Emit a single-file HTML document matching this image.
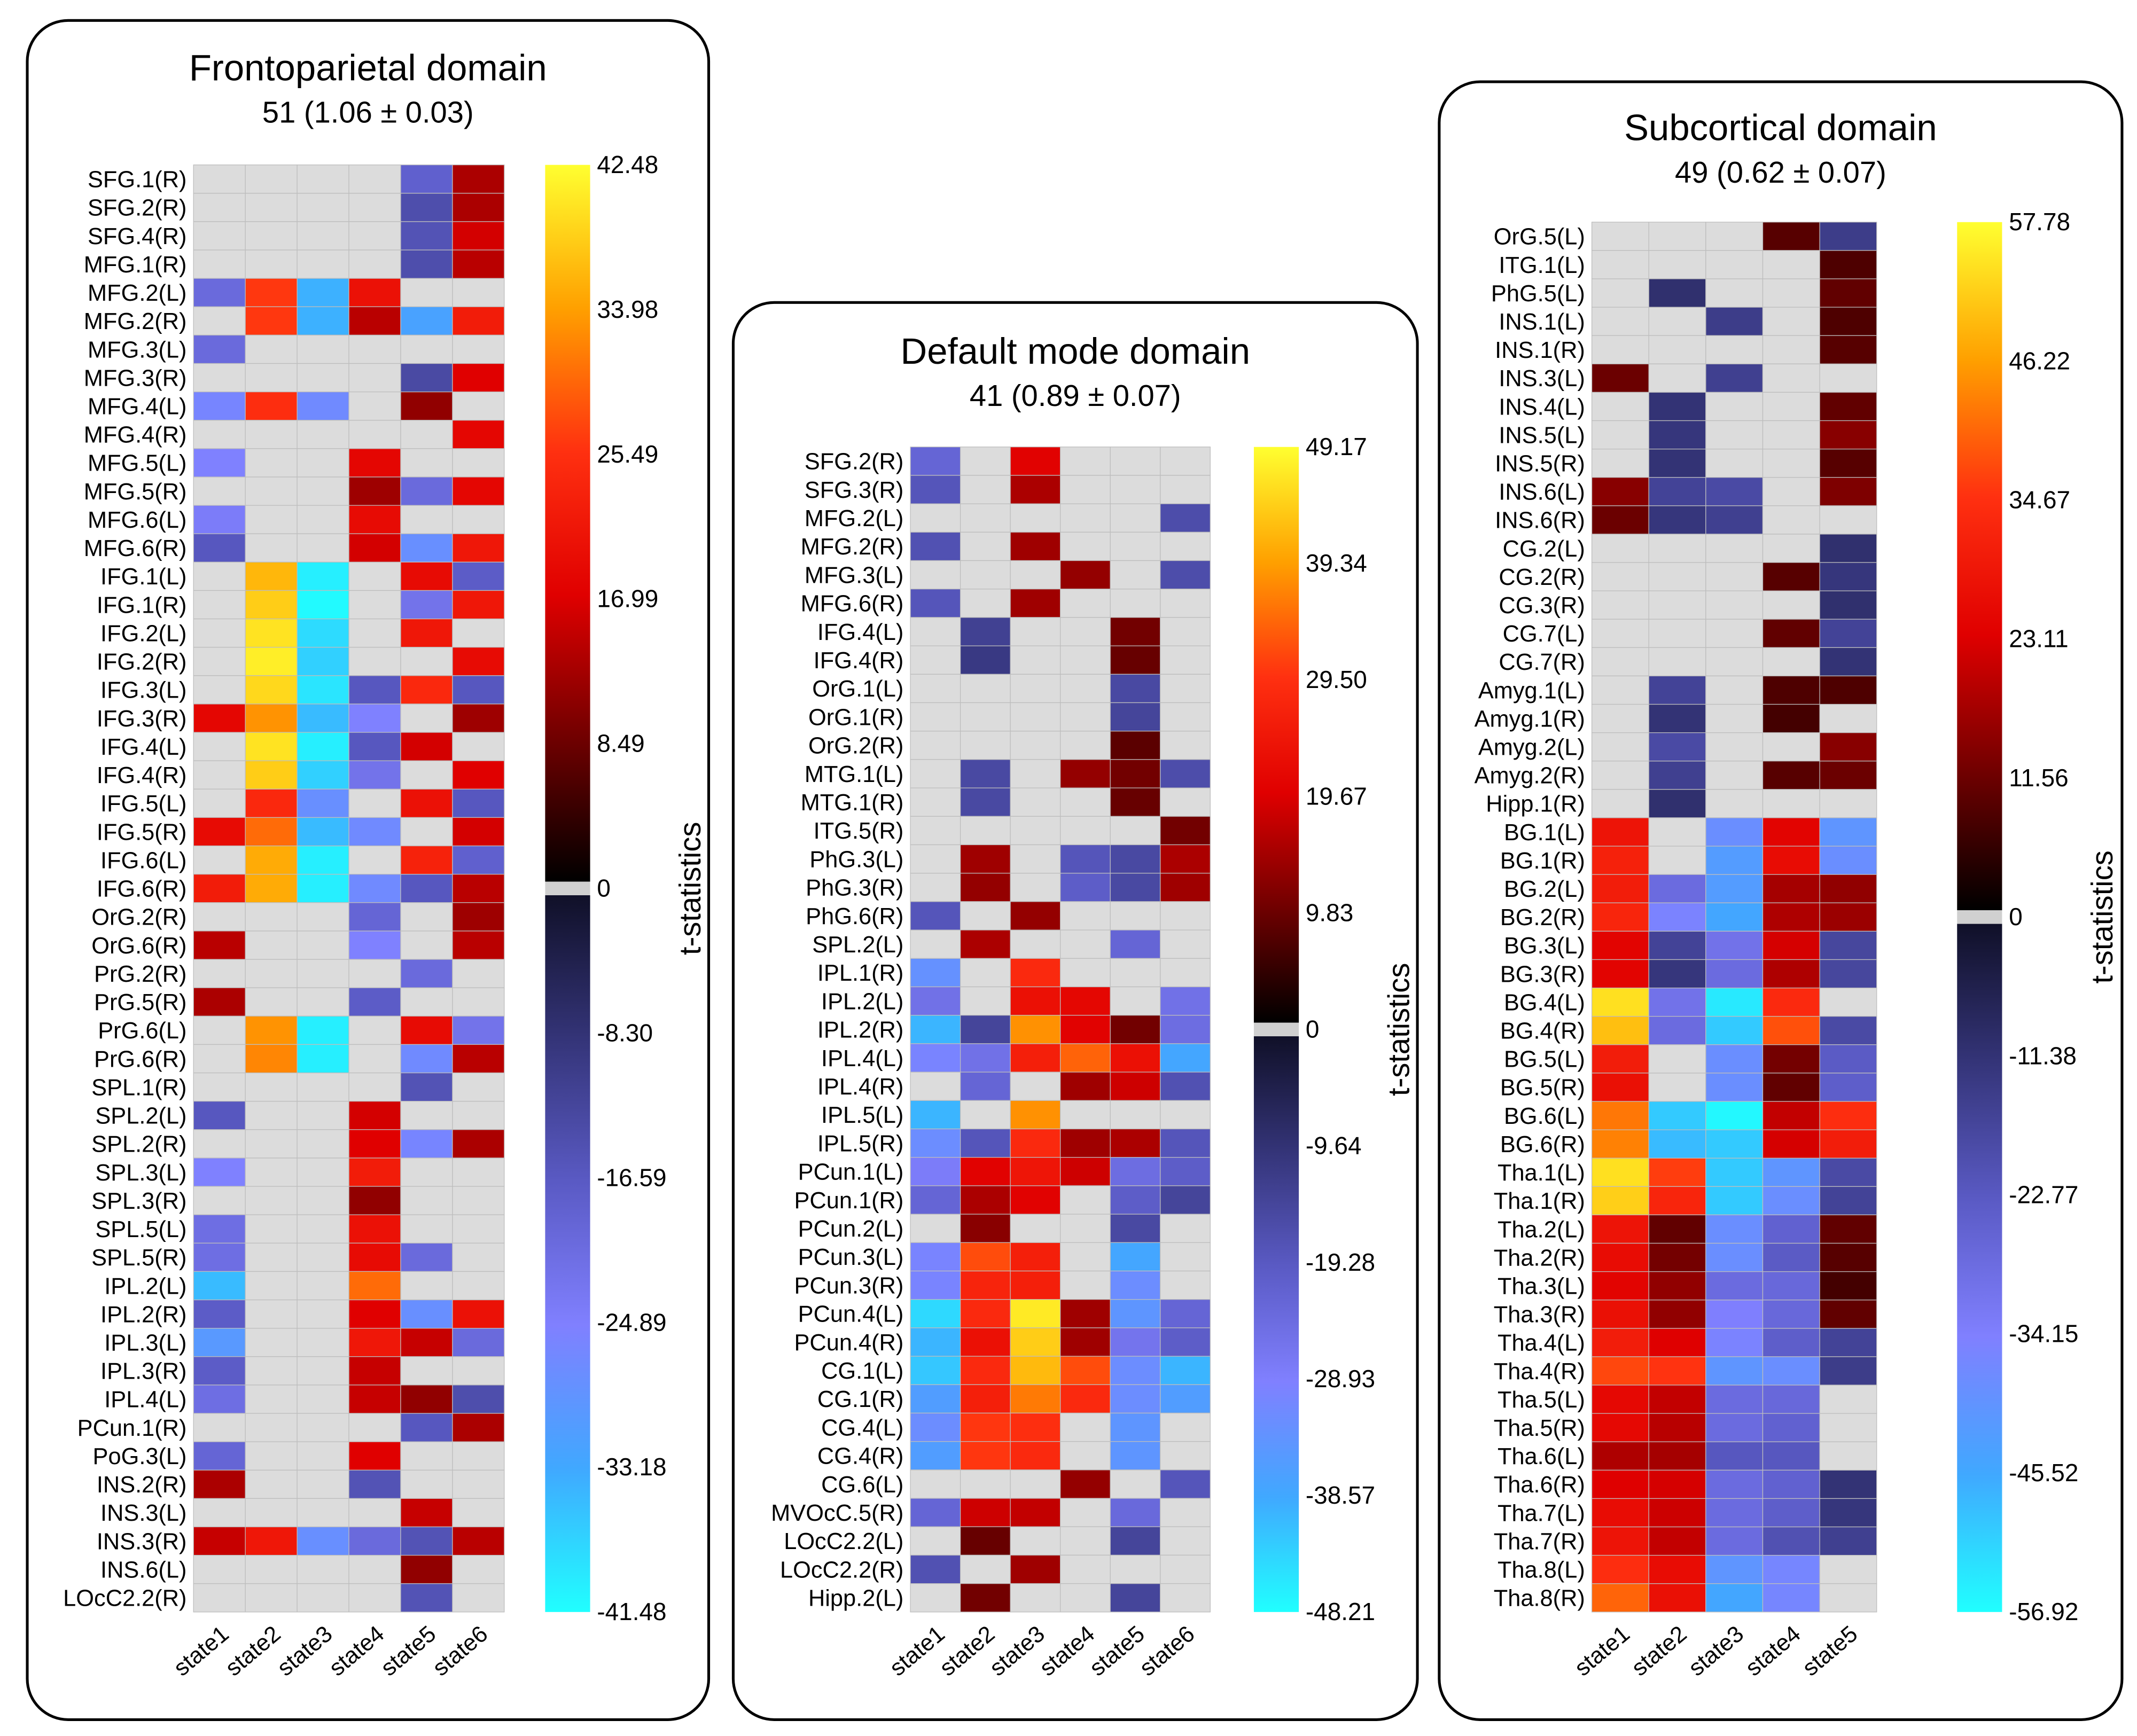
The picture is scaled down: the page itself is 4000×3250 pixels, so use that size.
<!DOCTYPE html>
<html><head><meta charset="utf-8">
<style>
html,body{margin:0;padding:0;background:#fff;}
svg{display:block;font-family:"Liberation Sans",Arial,sans-serif;}
</style></head>
<body>
<svg id="chart" xmlns="http://www.w3.org/2000/svg" width="4000" height="3250" viewBox="0 0 1568 1274" preserveAspectRatio="none">
<defs>
<linearGradient id="gpos" x1="0" y1="1" x2="0" y2="0">
<stop offset="0" stop-color="#000000"/><stop offset="0.2" stop-color="#700000"/><stop offset="0.4" stop-color="#e00000"/><stop offset="0.6" stop-color="#ff3010"/><stop offset="0.8" stop-color="#ffa000"/><stop offset="1" stop-color="#ffff30"/>
</linearGradient>
<linearGradient id="gneg" x1="0" y1="0" x2="0" y2="1">
<stop offset="0" stop-color="#101028"/><stop offset="0.2" stop-color="#343478"/><stop offset="0.4" stop-color="#5a5ac4"/><stop offset="0.6" stop-color="#8080ff"/><stop offset="0.8" stop-color="#40a8ff"/><stop offset="1" stop-color="#20ffff"/>
</linearGradient>
</defs>
</svg>
<script>
// ---------- data ----------
const fpRows=["SFG.1(R)","SFG.2(R)","SFG.4(R)","MFG.1(R)","MFG.2(L)","MFG.2(R)","MFG.3(L)","MFG.3(R)","MFG.4(L)","MFG.4(R)","MFG.5(L)","MFG.5(R)","MFG.6(L)","MFG.6(R)","IFG.1(L)","IFG.1(R)","IFG.2(L)","IFG.2(R)","IFG.3(L)","IFG.3(R)","IFG.4(L)","IFG.4(R)","IFG.5(L)","IFG.5(R)","IFG.6(L)","IFG.6(R)","OrG.2(R)","OrG.6(R)","PrG.2(R)","PrG.5(R)","PrG.6(L)","PrG.6(R)","SPL.1(R)","SPL.2(L)","SPL.2(R)","SPL.3(L)","SPL.3(R)","SPL.5(L)","SPL.5(R)","IPL.2(L)","IPL.2(R)","IPL.3(L)","IPL.3(R)","IPL.4(L)","PCun.1(R)","PoG.3(L)","INS.2(R)","INS.3(L)","INS.3(R)","INS.6(L)","LOcC2.2(R)"];
const fpVals=[
[0,0,0,0,-18,13],[0,0,0,0,-14,13],[0,0,0,0,-15,16],[0,0,0,0,-14,14],
[-20,26,-34,20,0,0],[0,26,-34,14,-32,22],[-20,0,0,0,0,0],[0,0,0,0,-13,17],
[-26,25,-27,0,11,0],[0,0,0,0,0,18],[-25,0,0,18,0,0],[0,0,0,12,-20,18],
[-24,0,0,19,0,0],[-16,0,0,16,-28,21],[0,36,-40,0,19,-17],[0,38,-41,0,-22,21],
[0,40,-38,0,21,0],[0,41,-37,0,0,19],[0,39,-39,-16,24,-16],[18,33,-35,-25,0,12],
[0,40,-40,-16,16,0],[0,38,-37,-22,0,17],[0,24,-28,0,20,-16],[19,30,-35,-27,0,16],
[0,35,-40,0,23,-18],[22,35,-40,-27,-16,14],[0,0,0,-19,0,12],[14,0,0,-25,0,14],
[0,0,0,0,-20,0],[13,0,0,-17,0,0],[0,33,-40,0,19,-22],[0,32,-40,0,-27,14],
[0,0,0,0,-15,0],[-16,0,0,16,0,0],[0,0,0,17,-26,13],[-25,0,0,22,0,0],
[0,0,0,11,0,0],[-21,0,0,20,0,0],[-21,0,0,19,-20,0],[-35,0,0,30,0,0],
[-17,0,0,17,-28,20],[-30,0,0,21,15,-20],[-17,0,0,15,0,0],[-21,0,0,15,11,-14],
[0,0,0,0,-16,13],[-19,0,0,17,0,0],[13,0,0,-15,0,0],[0,0,0,0,15,0],
[15,21,-28,-20,-15,14],[0,0,0,0,11,0],[0,0,0,0,-15,0]];
const fpTicks=["42.48","33.98","25.49","16.99","8.49","0","-8.30","-16.59","-24.89","-33.18","-41.48"];

const dmRows=["SFG.2(R)","SFG.3(R)","MFG.2(L)","MFG.2(R)","MFG.3(L)","MFG.6(R)","IFG.4(L)","IFG.4(R)","OrG.1(L)","OrG.1(R)","OrG.2(R)","MTG.1(L)","MTG.1(R)","ITG.5(R)","PhG.3(L)","PhG.3(R)","PhG.6(R)","SPL.2(L)","IPL.1(R)","IPL.2(L)","IPL.2(R)","IPL.4(L)","IPL.4(R)","IPL.5(L)","IPL.5(R)","PCun.1(L)","PCun.1(R)","PCun.2(L)","PCun.3(L)","PCun.3(R)","PCun.4(L)","PCun.4(R)","CG.1(L)","CG.1(R)","CG.4(L)","CG.4(R)","CG.6(L)","MVOcC.5(R)","LOcC2.2(L)","LOcC2.2(R)","Hipp.2(L)"];
const dmVals=[
[-22,0,20,0,0,0],[-18,0,15,0,0,0],[0,0,0,0,0,-16],[-17,0,14,0,0,0],
[0,0,0,13,0,-16],[-18,0,14,0,0,0],[0,-13,0,0,10,0],[0,-11,0,0,9,0],
[0,0,0,0,-15,0],[0,0,0,0,-14,0],[0,0,0,0,8,0],[0,-15,0,13,10,-16],
[0,-15,0,0,9,0],[0,0,0,0,0,10],[0,14,0,-18,-15,15],[0,13,0,-20,-15,14],
[-18,0,13,0,0,0],[0,15,0,0,-22,0],[-33,0,28,0,0,0],[-25,0,23,21,0,-25],
[-40,-14,38,20,10,-24],[-30,-25,26,34,23,-38],[0,-22,0,14,18,-17],[-40,0,38,0,0,0],
[-32,-18,28,14,15,-18],[-28,20,24,18,-24,-20],[-22,15,20,0,-20,-14],[0,12,0,0,-15,0],
[-30,32,26,0,-38,0],[-30,27,26,0,-32,0],[-44,28,47,14,-34,-22],[-40,23,44,14,-26,-20],
[-42,28,42,32,-32,-40],[-36,26,36,28,-32,-36],[-32,30,29,0,-34,0],[-36,30,28,0,-34,0],
[0,0,0,13,0,-18],[-22,18,17,0,-23,0],[0,9,0,0,-14,0],[-17,0,14,0,0,0],[0,10,0,0,-14,0]];
const dmTicks=["49.17","39.34","29.50","19.67","9.83","0","-9.64","-19.28","-28.93","-38.57","-48.21"];

const scRows=["OrG.5(L)","ITG.1(L)","PhG.5(L)","INS.1(L)","INS.1(R)","INS.3(L)","INS.4(L)","INS.5(L)","INS.5(R)","INS.6(L)","INS.6(R)","CG.2(L)","CG.2(R)","CG.3(R)","CG.7(L)","CG.7(R)","Amyg.1(L)","Amyg.1(R)","Amyg.2(L)","Amyg.2(R)","Hipp.1(R)","BG.1(L)","BG.1(R)","BG.2(L)","BG.2(R)","BG.3(L)","BG.3(R)","BG.4(L)","BG.4(R)","BG.5(L)","BG.5(R)","BG.6(L)","BG.6(R)","Tha.1(L)","Tha.1(R)","Tha.2(L)","Tha.2(R)","Tha.3(L)","Tha.3(R)","Tha.4(L)","Tha.4(R)","Tha.5(L)","Tha.5(R)","Tha.6(L)","Tha.6(R)","Tha.7(L)","Tha.7(R)","Tha.8(L)","Tha.8(R)"];
const scVals=[
[0,0,0,9,-14],[0,0,0,0,8],[0,-10,0,0,10],[0,0,-14,0,8],[0,0,0,0,9],
[11,0,-15,0,0],[0,-11,0,0,10],[0,-12,0,0,14],[0,-11,0,0,9],[14,-16,-18,0,13],
[11,-12,-15,0,0],[0,0,0,0,-10],[0,0,0,9,-12],[0,0,0,0,-10],[0,0,0,10,-16],
[0,0,0,0,-11],[0,-16,0,8,8],[0,-11,0,7,0],[0,-18,0,0,14],[0,-15,0,9,11],
[0,-10,0,0,0],[28,0,-38,24,-40],[31,0,-42,26,-38],[30,-28,-42,17,15],[32,-35,-45,18,16],
[24,-16,-30,22,-17],[24,-12,-28,18,-17],[54,-30,-54,33,0],[50,-28,-50,38,-18],
[30,0,-38,12,-23],[27,0,-38,10,-24],[42,-50,-56,20,34],[43,-48,-50,22,30],
[54,36,-50,-40,-18],[52,32,-50,-38,-16],[28,10,-38,-25,10],[26,12,-38,-23,9],
[24,15,-28,-27,7],[27,15,-34,-27,10],[30,23,-35,-24,-16],[37,35,-40,-38,-14],
[25,20,-28,-27,0],[25,19,-28,-25,0],[18,17,-22,-22,0],[23,22,-28,-25,-11],
[26,21,-28,-24,-12],[28,20,-28,-20,-15],[34,26,-40,-36,0],[40,27,-45,-36,0]];
const scTicks=["57.78","46.22","34.67","23.11","11.56","0","-11.38","-22.77","-34.15","-45.52","-56.92"];

// ---------- color ----------
const posStops=[[0,[0,0,0]],[0.2,[112,0,0]],[0.4,[224,0,0]],[0.6,[255,48,16]],[0.8,[255,160,0]],[1,[255,255,48]]];
const negStops=[[0,[16,16,40]],[0.2,[52,52,120]],[0.4,[90,90,196]],[0.6,[128,128,255]],[0.8,[64,168,255]],[1,[32,255,255]]];
function interp(st,f){f=Math.max(0,Math.min(1,f));for(let i=1;i<st.length;i++){if(f<=st[i][0]){const a=st[i-1],b=st[i],t=(f-a[0])/(b[0]-a[0]);return 'rgb('+a[1].map((c,k)=>Math.round(c+(b[1][k]-c)*t)).join(',')+')';}}return 'rgb('+st[st.length-1][1].join(',')+')';}
function colorOf(v,max,min){if(v===0)return '#dcdcdc';return v>0?interp(posStops,v/max):interp(negStops,v/min);}

const NS='http://www.w3.org/2000/svg';
const svg=document.getElementById('chart');
function el(tag,attrs,parent){const e=document.createElementNS(NS,tag);for(const k in attrs)e.setAttribute(k,attrs[k]);(parent||svg).appendChild(e);return e;}

function panel(p){
  const g=el('g',{});
  
  
  const box=el('rect',{x:p.bx,y:p.by,width:p.bw,height:p.bh,rx:30,ry:30,fill:'#fff',stroke:'#000','stroke-width':2},g);
  
  
  const cx=p.bx+p.bw/2;
  const t=el('text',{x:cx,y:p.ty,'text-anchor':'middle','font-size':27},g);t.textContent=p.title;
  
  
  const s=el('text',{x:cx,y:p.ty+31,'text-anchor':'middle','font-size':22},g);s.textContent=p.sub;
  
  
  const nR=p.rows.length,nC=p.vals[0].length;
  const cw=(p.hx2-p.hx)/nC,rh=(p.hy2-p.hy)/nR;
  const vmax=parseFloat(p.ticks[0]),vmin=parseFloat(p.ticks[p.ticks.length-1]);
  for(let r=0;r<nR;r++){
    const lab=el('text',{x:p.hx-5,y:p.hy+rh*(r+0.5)+6,'text-anchor':'end','font-size':17},g);lab.textContent=p.rows[r];
    
    
    for(let c=0;c<nC;c++){
      const v=p.vals[r][c];
      const cell=el('rect',{x:p.hx+c*cw,y:p.hy+r*rh,width:cw,height:rh,fill:colorOf(v,vmax,vmin),stroke:'#bdbdbd','stroke-width':0.5},g);
      
      
    }
  }
  for(let c=0;c<nC;c++){
    const x=p.hx+cw*(c+0.5)+8,y=p.hy2+18;
    const sl=el('text',{x:x,y:y,'text-anchor':'end','font-size':17,transform:'rotate(-40 '+x+' '+y+')'},g);sl.textContent='state'+(c+1);
    
    
  }
  const zy=(p.hy+p.hy2)/2+(p.zoff||0);
  const cb=el('g',{},g);
  
  
  el('rect',{x:p.cbx,y:p.hy,width:33,height:zy-5-p.hy,fill:'url(#gpos)'},cb);
  el('rect',{x:p.cbx,y:zy-5,width:33,height:10,fill:'#d0d0d0'},cb);
  el('rect',{x:p.cbx,y:zy+5,width:33,height:p.hy2-zy-5,fill:'url(#gneg)'},cb);
  const nt=p.ticks.length;
  for(let i=0;i<nt;i++){
    const y=p.hy+(p.hy2-p.hy)*i/(nt-1);
    const tl=el('text',{x:p.cbx+38,y:y+6,'font-size':18},cb);tl.textContent=p.ticks[i];
    
    
  }
  const ax=p.cbx+114,ay=(p.hy+p.hy2)/2;
  const at=el('text',{x:ax,y:ay,'text-anchor':'middle','font-size':22,transform:'rotate(-90 '+ax+' '+ay+')'},cb);at.textContent='t-statistics';
  
  
}

panel({key:'frontoparietal',bx:20,by:15,bw:500,bh:1247,ty:59,title:'Frontoparietal domain',sub:'51 (1.06 \u00b1 0.03)',rows:fpRows,vals:fpVals,ticks:fpTicks,hx:142,hx2:370,hy:121,hy2:1183,cbx:400});
panel({key:'default-mode',bx:538,by:222,bw:502,bh:1040,ty:267,title:'Default mode domain',sub:'41 (0.89 \u00b1 0.07)',rows:dmRows,vals:dmVals,ticks:dmTicks,hx:668,hx2:888,hy:328,hy2:1183,cbx:920});
panel({key:'subcortical',bx:1056,by:60,bw:501,bh:1202,ty:103,title:'Subcortical domain',sub:'49 (0.62 \u00b1 0.07)',rows:scRows,vals:scVals,ticks:scTicks,hx:1168,hx2:1377,hy:163,hy2:1183,cbx:1436});
</script>
</body></html>
